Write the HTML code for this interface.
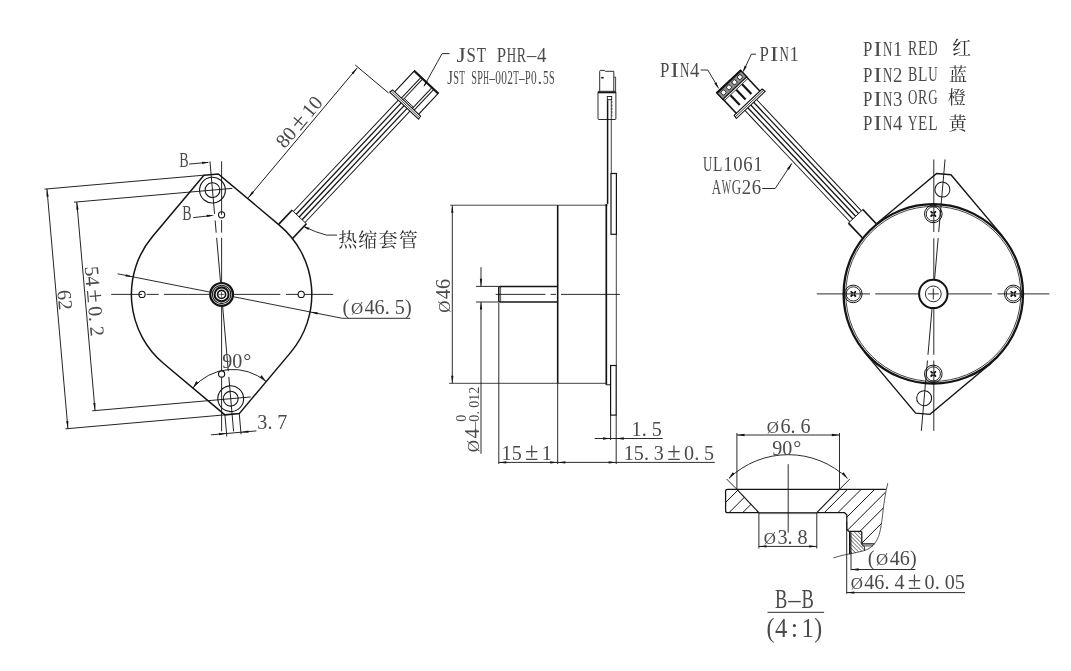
<!DOCTYPE html>
<html><head><meta charset="utf-8"><title>Motor drawing</title>
<style>
html,body{margin:0;padding:0;background:#fff;}
svg{display:block;will-change:transform;opacity:0.999}
svg text{font-family:"Liberation Serif",serif;fill:#4a4a4a;stroke:none;}
</style></head><body>
<svg width="1071" height="671" viewBox="0 0 1071 671" fill="none" stroke="#141414" stroke-linecap="butt">
<rect x="0" y="0" width="1071" height="671" fill="#fff" stroke="none"/>
<g transform="translate(221.6,294.4) rotate(-5)"><path d="M-7.2,-120.3 L7.2,-120.3 L63.78,-63.78 A90.2,90.2 0 0 1 63.78,63.78 L7.2,120.3 L-7.2,120.3 L-63.78,63.78 A90.2,90.2 0 0 1 -63.78,-63.78 Z" stroke-width="1.5" fill="none" /><circle cx="0" cy="-104.7" r="12.9" stroke-width="1.1" fill="none"/><circle cx="0" cy="-104.7" r="7.4" stroke-width="1.1" fill="none"/><line x1="-139" y1="-104.7" x2="20" y2="-104.7" stroke-width="0.9" /><line x1="-167.2" y1="-120.3" x2="-7.2" y2="-120.3" stroke-width="0.9" /><circle cx="0" cy="104.7" r="12.9" stroke-width="1.1" fill="none"/><circle cx="0" cy="104.7" r="7.4" stroke-width="1.1" fill="none"/><line x1="-139" y1="104.7" x2="20" y2="104.7" stroke-width="0.9" /><line x1="-167.2" y1="120.3" x2="-7.2" y2="120.3" stroke-width="0.9" /><line x1="-136.2" y1="-104.7" x2="-136.2" y2="104.7" stroke-width="0.9" /><path d="M-136.2,-104.7 L-135.05,-97.1 L-137.35,-97.1 Z" fill="#141414" stroke="none"/><path d="M-136.2,104.7 L-137.35,97.1 L-135.05,97.1 Z" fill="#141414" stroke="none"/><line x1="-164.8" y1="-120.3" x2="-164.8" y2="120.3" stroke-width="0.9" /><path d="M-164.8,-120.3 L-163.65,-112.7 L-165.95,-112.7 Z" fill="#141414" stroke="none"/><path d="M-164.8,120.3 L-165.95,112.7 L-163.65,112.7 Z" fill="#141414" stroke="none"/><line x1="0" y1="-133.6" x2="0" y2="-80.8" stroke-width="0.9" /><line x1="0" y1="-74.3" x2="0" y2="-62" stroke-width="0.9" /><line x1="0" y1="-56.8" x2="0" y2="-12" stroke-width="0.9" /><line x1="0" y1="12" x2="0" y2="77.1" stroke-width="0.9" /><line x1="0" y1="82.8" x2="0" y2="137.5" stroke-width="0.9" /><line x1="-7.2" y1="120.3" x2="-7.2" y2="142" stroke-width="0.9" /><line x1="7.2" y1="120.3" x2="7.2" y2="141" stroke-width="0.9" /><line x1="-22.7" y1="139" x2="22.8" y2="139" stroke-width="0.9" /><path d="M-7.2,139 L-14.8,140.15 L-14.8,137.85 Z" fill="#141414" stroke="none"/><path d="M7.2,139 L14.8,137.85 L14.8,140.15 Z" fill="#141414" stroke="none"/><path d="M-36.77,90.73 A52,52 0 0 1 36.77,90.73" stroke-width="0.9" fill="none" /><path d="M-36.77,90.73 L-32.82,84.13 L-31.05,85.6 Z" fill="#141414" stroke="none"/><path d="M36.77,90.73 L31.05,85.6 L32.82,84.13 Z" fill="#141414" stroke="none"/><text y="-18.1" font-size="20.1" transform="rotate(90 -163.3 -18.1)" ><tspan x="-163.3">6</tspan><tspan x="-153.25">2</tspan></text><text y="-39.6" font-size="20.1" transform="rotate(90 -134 -39.6)" ><tspan x="-134">5</tspan><tspan x="-123.95">4</tspan><tspan x="-110.58" font-size="24.52">±</tspan><tspan x="-93.8">0</tspan><tspan x="-83.55">.</tspan><tspan x="-73.7">2</tspan></text></g><circle cx="221.6" cy="214.8" r="3.1" stroke-width="1.1" fill="#fff"/><circle cx="221.6" cy="374" r="3.1" stroke-width="1.1" fill="#fff"/><circle cx="142" cy="294.4" r="3.1" stroke-width="1.1" fill="#fff"/><circle cx="301.2" cy="294.4" r="3.1" stroke-width="1.1" fill="#fff"/><line x1="221.6" y1="161.3" x2="221.6" y2="214.8" stroke-width="0.9" /><line x1="221.6" y1="220.1" x2="221.6" y2="232.6" stroke-width="0.9" /><line x1="221.6" y1="237.8" x2="221.6" y2="282.4" stroke-width="0.9" /><line x1="221.6" y1="306.4" x2="221.6" y2="370.9" stroke-width="0.9" /><line x1="221.6" y1="377.1" x2="221.6" y2="431.4" stroke-width="0.9" /><line x1="111.2" y1="294.4" x2="142" y2="294.4" stroke-width="0.9" /><line x1="146.6" y1="294.4" x2="158.7" y2="294.4" stroke-width="0.9" /><line x1="163.9" y1="294.4" x2="209.6" y2="294.4" stroke-width="0.9" /><line x1="233.6" y1="294.4" x2="280.4" y2="294.4" stroke-width="0.9" /><line x1="286" y1="294.4" x2="298.1" y2="294.4" stroke-width="0.9" /><line x1="304.3" y1="294.4" x2="333.2" y2="294.4" stroke-width="0.9" /><circle cx="221.6" cy="294.4" r="11.4" stroke-width="2.2" fill="none"/><circle cx="221.6" cy="294.4" r="9.2" stroke-width="1.1" fill="none"/><circle cx="221.6" cy="294.4" r="7" stroke-width="2.1" fill="none"/><circle cx="221.6" cy="294.4" r="4" stroke-width="1.7" fill="none"/><line x1="219.2" y1="294.4" x2="224" y2="294.4" stroke-width="0.7" /><line x1="221.6" y1="292" x2="221.6" y2="296.8" stroke-width="0.7" /><line x1="117.62" y1="273.81" x2="209.34" y2="291.97" stroke-width="0.9" /><line x1="233.86" y1="296.83" x2="342.3" y2="318.3" stroke-width="0.9" /><line x1="342.3" y1="318.3" x2="410.3" y2="318.3" stroke-width="0.9" /><path d="M133.12,276.88 L125.44,276.53 L125.89,274.28 Z" fill="#141414" stroke="none"/><path d="M310.08,311.92 L317.76,312.27 L317.31,314.52 Z" fill="#141414" stroke="none"/><text y="314.2" font-size="20.1" ><tspan x="342.56">(</tspan><tspan x="350.89" font-size="16.88">Ø</tspan><tspan x="364.52">4</tspan><tspan x="374.57">6</tspan><tspan x="384.82">.</tspan><tspan x="394.68">5</tspan><tspan x="404.93">)</tspan></text><text y="429" font-size="20.1" ><tspan x="257.2">3</tspan><tspan x="267.45">.</tspan><tspan x="277.3">7</tspan></text><text y="367.9" font-size="20.1" ><tspan x="222.2">9</tspan><tspan x="232.25">0</tspan><tspan x="243.31">°</tspan></text><line x1="189.1" y1="164.1" x2="208" y2="162.35" stroke-width="0.9" /><path d="M209.7,162.2 L202.23,164.01 L202.03,161.72 Z" fill="#141414" stroke="none"/><text y="166.5" font-size="20.1" ><tspan x="179.35" textLength="9.35" lengthAdjust="spacingAndGlyphs">B</tspan></text><line x1="193.2" y1="217.6" x2="212" y2="215.55" stroke-width="0.9" /><path d="M214.3,215.3 L206.83,217.11 L206.63,214.82 Z" fill="#141414" stroke="none"/><text y="219.8" font-size="20.1" ><tspan x="182.35" textLength="9.35" lengthAdjust="spacingAndGlyphs">B</tspan></text><g transform="translate(221.6,294.4) rotate(-50)"><line x1="91" y1="-41.7" x2="260.8" y2="-41.7" stroke-width="0.9" /><path d="M91,-41.7 L98.6,-42.85 L98.6,-40.55 Z" fill="#141414" stroke="none"/><path d="M260.8,-41.7 L253.2,-40.55 L253.2,-42.85 Z" fill="#141414" stroke="none"/><line x1="261.6" y1="-45" x2="261.6" y2="-1.5" stroke-width="0.9" /><text y="-44.8" font-size="20.1" ><tspan x="151.8">8</tspan><tspan x="161.85">0</tspan><tspan x="175.22" font-size="24.52">±</tspan><tspan x="192">1</tspan><tspan x="202.05">0</tspan></text></g><g transform="translate(299.2,217) rotate(-46.7)"><line x1="0" y1="-8" x2="153" y2="-8" stroke-width="0.95" /><line x1="0" y1="-4" x2="153" y2="-4" stroke-width="1.3" /><line x1="0" y1="0" x2="153" y2="0" stroke-width="1.3" /><line x1="0" y1="4" x2="153" y2="4" stroke-width="1.3" /><line x1="0" y1="8" x2="153" y2="8" stroke-width="0.95" /><path d="M-19.2,-9.9 L0,-9.9" stroke-width="1.7" fill="none" /><path d="M-20.2,9.9 L0,9.9" stroke-width="1.7" fill="none" /><line x1="0" y1="-10.3" x2="0" y2="10.3" stroke-width="0.9" /><path d="M153,-19.8 L153,19.8 L156.6,19.2 L156.6,-19.2 Z" stroke-width="1.1" fill="none" /><line x1="154.8" y1="-19.6" x2="154.8" y2="19.6" stroke-width="0.7" /><path d="M156.6,-16.4 L185.7,-16.4 L185.7,16.4 L156.6,16.4" stroke-width="1.15" fill="none" /><line x1="185" y1="-16.4" x2="185" y2="16.4" stroke-width="1.7" /><line x1="156.6" y1="-7.2" x2="184.5" y2="-7.2" stroke-width="1.0" /><line x1="156.6" y1="-4.8" x2="184.5" y2="-4.8" stroke-width="1.0" /><line x1="156.6" y1="7.9" x2="184.5" y2="7.9" stroke-width="1.0" /><line x1="156.6" y1="10.4" x2="184.5" y2="10.4" stroke-width="1.0" /><line x1="158.3" y1="-4.8" x2="158.3" y2="7.9" stroke-width="0.9" /></g><path d="M449.6,53.6 L442.1,53.6 L424.2,85.8" stroke-width="0.9" fill="none" /><path d="M423.5,87.2 L425.84,80.5 L427.94,81.66 Z" fill="#141414" stroke="none"/><text y="61.6" font-size="20.1" ><tspan x="456.55" textLength="9.35" lengthAdjust="spacingAndGlyphs">J</tspan><tspan x="466.6" textLength="9.35" lengthAdjust="spacingAndGlyphs">S</tspan><tspan x="476.65" textLength="9.35" lengthAdjust="spacingAndGlyphs">T</tspan><tspan x="496.75" textLength="9.35" lengthAdjust="spacingAndGlyphs">P</tspan><tspan x="506.8" textLength="9.35" lengthAdjust="spacingAndGlyphs">H</tspan><tspan x="516.85" textLength="9.35" lengthAdjust="spacingAndGlyphs">R</tspan><tspan x="526.9" textLength="9.35" lengthAdjust="spacingAndGlyphs">–</tspan><tspan x="536.95" textLength="9.35" lengthAdjust="spacingAndGlyphs">4</tspan></text><text y="84.3" font-size="19" ><tspan x="447.35" textLength="5.68" lengthAdjust="spacingAndGlyphs">J</tspan><tspan x="453.33" textLength="5.68" lengthAdjust="spacingAndGlyphs">S</tspan><tspan x="459.31" textLength="5.68" lengthAdjust="spacingAndGlyphs">T</tspan><tspan x="471.27" textLength="5.68" lengthAdjust="spacingAndGlyphs">S</tspan><tspan x="477.25" textLength="5.68" lengthAdjust="spacingAndGlyphs">P</tspan><tspan x="483.23" textLength="5.68" lengthAdjust="spacingAndGlyphs">H</tspan><tspan x="489.21" textLength="5.68" lengthAdjust="spacingAndGlyphs">–</tspan><tspan x="495.19" textLength="5.68" lengthAdjust="spacingAndGlyphs">0</tspan><tspan x="501.17" textLength="5.68" lengthAdjust="spacingAndGlyphs">0</tspan><tspan x="507.15" textLength="5.68" lengthAdjust="spacingAndGlyphs">2</tspan><tspan x="513.13" textLength="5.68" lengthAdjust="spacingAndGlyphs">T</tspan><tspan x="519.11" textLength="5.68" lengthAdjust="spacingAndGlyphs">–</tspan><tspan x="525.09" textLength="5.68" lengthAdjust="spacingAndGlyphs">P</tspan><tspan x="531.07" textLength="5.68" lengthAdjust="spacingAndGlyphs">0</tspan><tspan x="537.52" textLength="4.75" lengthAdjust="spacingAndGlyphs">.</tspan><tspan x="543.03" textLength="5.68" lengthAdjust="spacingAndGlyphs">5</tspan><tspan x="549.01" textLength="5.68" lengthAdjust="spacingAndGlyphs">S</tspan></text><path d="M337.1,235.1 L326.4,235.1 Q316,232.5 304.5,226.8" stroke-width="0.9" fill="none" /><path d="M302.6,226 L309.45,227.87 L308.44,230.05 Z" fill="#141414" stroke="none"/><text y="246.9" font-size="19" style="font-family:'Liberation Serif','Noto Serif CJK SC',serif;fill:#2e2e2e;"><tspan x="338.35">热</tspan><tspan x="358.23">缩</tspan><tspan x="378.56">套</tspan><tspan x="398.72">管</tspan></text><line x1="450.2" y1="205.2" x2="607.7" y2="205.2" stroke-width="0.8" /><line x1="449.1" y1="383.3" x2="606.3" y2="383.3" stroke-width="0.8" /><line x1="557.7" y1="205.2" x2="557.7" y2="383.3" stroke-width="1.6" /><line x1="606.3" y1="204" x2="606.3" y2="384.8" stroke-width="1.7" /><line x1="606.3" y1="384.8" x2="610.5" y2="384.8" stroke-width="1.0" /><line x1="607.6" y1="100.2" x2="607.6" y2="204" stroke-width="1.5" /><line x1="611.3" y1="100.2" x2="611.3" y2="173.5" stroke-width="0.8" /><rect x="611" y="173.5" width="5.4" height="60.8" fill="none" stroke-width="1.2"/><rect x="610.6" y="365.5" width="5.6" height="49.6" fill="none" stroke-width="1.2"/><line x1="616.3" y1="234.3" x2="616.3" y2="365.5" stroke-width="0.8" /><path d="M557.7,286.4 L500,286.4 Q498.8,286.4 498.8,287.6 L498.8,300.8 Q498.8,302 500,302 L557.7,302" stroke-width="1.5" fill="none" /><line x1="500.6" y1="286.4" x2="500.6" y2="302" stroke-width="0.7" /><line x1="476.1" y1="286.4" x2="498.8" y2="286.4" stroke-width="0.9" /><line x1="476.1" y1="302" x2="498.8" y2="302" stroke-width="0.9" /><line x1="495.7" y1="294.4" x2="545.5" y2="294.4" stroke-width="0.9" /><line x1="550.5" y1="294.4" x2="556" y2="294.4" stroke-width="0.9" /><line x1="561" y1="294.4" x2="620" y2="294.4" stroke-width="0.9" /><line x1="452.3" y1="205.2" x2="452.3" y2="383.3" stroke-width="0.9" /><path d="M452.3,205.2 L453.45,212.8 L451.15,212.8 Z" fill="#141414" stroke="none"/><path d="M452.3,383.3 L451.15,375.7 L453.45,375.7 Z" fill="#141414" stroke="none"/><text y="314.2" font-size="20.1" transform="rotate(-90 450.4 314.2)" ><tspan x="451.84" font-size="16.88">Ø</tspan><tspan x="465.47">4</tspan><tspan x="475.52">6</tspan></text><line x1="481" y1="267.1" x2="481" y2="286.4" stroke-width="0.9" /><path d="M481,286.4 L479.85,278.8 L482.15,278.8 Z" fill="#141414" stroke="none"/><line x1="481" y1="302" x2="481" y2="453.8" stroke-width="0.9" /><path d="M481,302 L482.15,309.6 L479.85,309.6 Z" fill="#141414" stroke="none"/><text y="453.6" font-size="20.1" transform="rotate(-90 479.4 453.6)" ><tspan x="480.84" font-size="16.88">Ø</tspan><tspan x="494.47">4</tspan></text><text y="428.8" font-size="14" transform="rotate(-90 479.4 428.8)" ><tspan x="479.4">–</tspan><tspan x="486.4">0</tspan><tspan x="493.6">.</tspan><tspan x="500.4">0</tspan><tspan x="507.4">1</tspan><tspan x="514.4">2</tspan></text><text y="421.8" font-size="14" transform="rotate(-90 466.3 421.8)" ><tspan x="466.3">0</tspan></text><line x1="498.8" y1="303" x2="498.8" y2="464" stroke-width="0.9" /><line x1="557.7" y1="383.3" x2="557.7" y2="464" stroke-width="0.9" /><line x1="498.8" y1="462.4" x2="557.7" y2="462.4" stroke-width="0.9" /><path d="M498.8,462.4 L506.4,461.25 L506.4,463.55 Z" fill="#141414" stroke="none"/><path d="M557.7,462.4 L550.1,463.55 L550.1,461.25 Z" fill="#141414" stroke="none"/><text y="459.8" font-size="20.1" ><tspan x="501.6">1</tspan><tspan x="511.65">5</tspan><tspan x="525.02" font-size="24.52">±</tspan><tspan x="541.8">1</tspan></text><line x1="616.2" y1="415.1" x2="616.2" y2="464" stroke-width="0.9" /><line x1="557.7" y1="462.4" x2="714.8" y2="462.4" stroke-width="0.9" /><path d="M557.7,462.4 L565.3,461.25 L565.3,463.55 Z" fill="#141414" stroke="none"/><path d="M616.2,462.4 L608.6,463.55 L608.6,461.25 Z" fill="#141414" stroke="none"/><text y="459.8" font-size="20.1" ><tspan x="623.7">1</tspan><tspan x="633.75">5</tspan><tspan x="644">.</tspan><tspan x="653.85">3</tspan><tspan x="667.22" font-size="24.52">±</tspan><tspan x="684">0</tspan><tspan x="694.25">.</tspan><tspan x="704.1">5</tspan></text><line x1="610.6" y1="415.1" x2="610.6" y2="440" stroke-width="0.9" /><line x1="594.7" y1="438.5" x2="662.7" y2="438.5" stroke-width="0.9" /><path d="M610.6,438.5 L603,439.65 L603,437.35 Z" fill="#141414" stroke="none"/><path d="M616.2,438.5 L623.8,437.35 L623.8,439.65 Z" fill="#141414" stroke="none"/><text y="436.4" font-size="20.1" ><tspan x="631.6">1</tspan><tspan x="641.85">.</tspan><tspan x="651.7">5</tspan></text><path d="M599.7,91.3 L599.7,71.3 Q599.7,70.4 600.6,70.4 L604.4,70.4 L605.4,71.3 L613.8,71.3 L613.8,91.3" stroke-width="0.9" fill="none" /><path d="M613.8,77.2 L615.6,77.2 L615.6,91.3" stroke-width="0.8" fill="none" /><line x1="601.2" y1="77.7" x2="603.6" y2="77.7" stroke-width="1.6" /><rect x="598" y="91.3" width="17.9" height="28.2" rx="0.8" fill="none" stroke-width="0.9"/><line x1="598" y1="92.5" x2="615.9" y2="92.5" stroke-width="1.6" /><rect x="607.3" y="96.5" width="4.4" height="3.2" fill="none" stroke-width="0.9"/><line x1="612" y1="101" x2="612" y2="116.5" stroke-width="0.6" stroke-dasharray="2.2 1.2"/><g transform="translate(933.3,293.9) rotate(5)"><path d="M-63.78,-63.78 L-7.2,-120.3 L7.2,-120.3 L63.78,-63.78" stroke-width="1.4" fill="none" /><circle cx="0" cy="-104.7" r="7.5" stroke-width="1.0" fill="none"/><path d="M-63.78,63.78 L-7.2,120.3 L7.2,120.3 L63.78,63.78" stroke-width="1.4" fill="none" /><circle cx="0" cy="104.7" r="7.5" stroke-width="1.0" fill="none"/><line x1="0" y1="-135" x2="0" y2="-62" stroke-width="0.9" /><line x1="0" y1="-56" x2="0" y2="-15" stroke-width="0.9" /><line x1="0" y1="15" x2="0" y2="61.2" stroke-width="0.9" /><line x1="0" y1="66.9" x2="0" y2="137.5" stroke-width="0.9" /></g><circle cx="933.3" cy="293.9" r="89.7" stroke-width="2.3" fill="none"/><circle cx="933.3" cy="293.9" r="87.5" stroke-width="0.8" fill="none"/><circle cx="933.3" cy="213.9" r="8.8" stroke-width="1.0" fill="none"/><circle cx="933.3" cy="213.9" r="7.1" stroke-width="0.9" fill="none"/><path d="M931.2,211.8 L935.4,216 M935.4,211.8 L931.2,216" stroke-width="1.8" stroke-linecap="round" fill="none"/><rect x="932.5" y="213.1" width="1.6" height="1.6" fill="#fff" stroke="none"/><circle cx="933.3" cy="373.9" r="8.8" stroke-width="1.0" fill="none"/><circle cx="933.3" cy="373.9" r="7.1" stroke-width="0.9" fill="none"/><path d="M931.2,371.8 L935.4,376 M935.4,371.8 L931.2,376" stroke-width="1.8" stroke-linecap="round" fill="none"/><rect x="932.5" y="373.1" width="1.6" height="1.6" fill="#fff" stroke="none"/><circle cx="853.3" cy="293.9" r="8.8" stroke-width="1.0" fill="none"/><circle cx="853.3" cy="293.9" r="7.1" stroke-width="0.9" fill="none"/><path d="M851.2,291.8 L855.4,296 M855.4,291.8 L851.2,296" stroke-width="1.8" stroke-linecap="round" fill="none"/><rect x="852.5" y="293.1" width="1.6" height="1.6" fill="#fff" stroke="none"/><circle cx="1013.3" cy="293.9" r="8.8" stroke-width="1.0" fill="none"/><circle cx="1013.3" cy="293.9" r="7.1" stroke-width="0.9" fill="none"/><path d="M1011.2,291.8 L1015.4,296 M1015.4,291.8 L1011.2,296" stroke-width="1.8" stroke-linecap="round" fill="none"/><rect x="1012.5" y="293.1" width="1.6" height="1.6" fill="#fff" stroke="none"/><circle cx="933.3" cy="293.9" r="14.2" stroke-width="2.0" fill="none"/><circle cx="933.3" cy="293.9" r="7.9" stroke-width="0.9" fill="none"/><line x1="927.8" y1="293.9" x2="938.8" y2="293.9" stroke-width="0.9" /><line x1="933.3" y1="288.4" x2="933.3" y2="299.4" stroke-width="0.9" /><line x1="816.8" y1="293.9" x2="870" y2="293.9" stroke-width="0.9" /><line x1="875.2" y1="293.9" x2="918.3" y2="293.9" stroke-width="0.9" /><line x1="948.3" y1="293.9" x2="992" y2="293.9" stroke-width="0.9" /><line x1="997.5" y1="293.9" x2="1049.4" y2="293.9" stroke-width="0.9" /><line x1="933.8" y1="159.5" x2="933.8" y2="232" stroke-width="0.9" /><line x1="933.8" y1="238.3" x2="933.8" y2="278.9" stroke-width="0.9" /><line x1="933.8" y1="308.9" x2="933.8" y2="354.9" stroke-width="0.9" /><line x1="933.8" y1="360.5" x2="933.8" y2="430.9" stroke-width="0.9" /><g transform="translate(855.65,216.3) scale(-1,1) rotate(-46.7)"><line x1="0" y1="-8" x2="153" y2="-8" stroke-width="0.95" /><line x1="0" y1="-4" x2="153" y2="-4" stroke-width="1.3" /><line x1="0" y1="0" x2="153" y2="0" stroke-width="1.3" /><line x1="0" y1="4" x2="153" y2="4" stroke-width="1.3" /><line x1="0" y1="8" x2="153" y2="8" stroke-width="0.95" /><path d="M-19.2,-9.9 L0,-9.9" stroke-width="1.7" fill="none" /><path d="M-20.2,9.9 L0,9.9" stroke-width="1.7" fill="none" /><line x1="0" y1="-10.3" x2="0" y2="10.3" stroke-width="0.9" /><path d="M153,-19.8 L153,19.8 L156.8,19.2 L156.8,-19.2 Z" stroke-width="1.1" fill="none" /><line x1="154.9" y1="-19.6" x2="154.9" y2="19.6" stroke-width="0.8" /><line x1="156.6" y1="-16.2" x2="185.5" y2="-16.2" stroke-width="1.6" /><line x1="156.6" y1="16.2" x2="185.5" y2="16.2" stroke-width="1.6" /><rect x="176.2" y="-16.4" width="9.2" height="32.8" fill="#8c8c8c" stroke-width="1.3"/><line x1="184.6" y1="-16.4" x2="184.6" y2="16.4" stroke-width="1.6" /><rect x="178.6" y="-13.35" width="4.2" height="4.2" rx="1.2" fill="#fff" stroke-width="0.9"/><rect x="178.6" y="-5.85" width="4.2" height="4.2" rx="1.2" fill="#fff" stroke-width="0.9"/><rect x="178.6" y="1.65" width="4.2" height="4.2" rx="1.2" fill="#fff" stroke-width="0.9"/><rect x="178.6" y="9.15" width="4.2" height="4.2" rx="1.2" fill="#fff" stroke-width="0.9"/><line x1="174.2" y1="-16.6" x2="174.2" y2="16.6" stroke-width="0.8" /><line x1="160.5" y1="-8" x2="174" y2="-8" stroke-width="2.2" /><line x1="160.5" y1="0" x2="174" y2="0" stroke-width="2.2" /><line x1="160.5" y1="8" x2="174" y2="8" stroke-width="2.2" /></g><text y="77" font-size="20.1" ><tspan x="659.95" textLength="9.35" lengthAdjust="spacingAndGlyphs">P</tspan><tspan x="670.49" textLength="8.37" lengthAdjust="spacingAndGlyphs">I</tspan><tspan x="680.05" textLength="9.35" lengthAdjust="spacingAndGlyphs">N</tspan><tspan x="690.1" textLength="9.35" lengthAdjust="spacingAndGlyphs">4</tspan></text><path d="M700.7,70 L707.8,70 L718.2,87.6" stroke-width="0.9" fill="none" /><path d="M718.9,88.9 L714.32,83.47 L716.39,82.26 Z" fill="#141414" stroke="none"/><text y="60.6" font-size="20.1" ><tspan x="759.45" textLength="9.35" lengthAdjust="spacingAndGlyphs">P</tspan><tspan x="769.99" textLength="8.37" lengthAdjust="spacingAndGlyphs">I</tspan><tspan x="779.55" textLength="9.35" lengthAdjust="spacingAndGlyphs">N</tspan><tspan x="789.6" textLength="9.35" lengthAdjust="spacingAndGlyphs">1</tspan></text><path d="M755.9,54.2 L751.4,54.2 L743.3,71.2" stroke-width="0.9" fill="none" /><path d="M742.7,72.5 L744.62,65.66 L746.79,66.69 Z" fill="#141414" stroke="none"/><text y="170.9" font-size="20.1" ><tspan x="703.05" textLength="9.35" lengthAdjust="spacingAndGlyphs">U</tspan><tspan x="713.1" textLength="9.35" lengthAdjust="spacingAndGlyphs">L</tspan><tspan x="723.15" textLength="9.35" lengthAdjust="spacingAndGlyphs">1</tspan><tspan x="733.2" textLength="9.35" lengthAdjust="spacingAndGlyphs">0</tspan><tspan x="743.25" textLength="9.35" lengthAdjust="spacingAndGlyphs">6</tspan><tspan x="753.3" textLength="9.35" lengthAdjust="spacingAndGlyphs">1</tspan></text><text y="193.8" font-size="20.1" ><tspan x="711.65" textLength="9.35" lengthAdjust="spacingAndGlyphs">A</tspan><tspan x="721.7" textLength="9.35" lengthAdjust="spacingAndGlyphs">W</tspan><tspan x="731.75" textLength="9.35" lengthAdjust="spacingAndGlyphs">G</tspan><tspan x="741.8" textLength="9.35" lengthAdjust="spacingAndGlyphs">2</tspan><tspan x="751.85" textLength="9.35" lengthAdjust="spacingAndGlyphs">6</tspan></text><path d="M762.3,188.5 L775.2,188.5 L791.6,163.7" stroke-width="0.9" fill="none" /><path d="M792.5,162.4 L789.09,169.73 L787.08,168.41 Z" fill="#141414" stroke="none"/><text y="56.2" font-size="20.1" ><tspan x="862.95" textLength="9.35" lengthAdjust="spacingAndGlyphs">P</tspan><tspan x="873.49" textLength="8.37" lengthAdjust="spacingAndGlyphs">I</tspan><tspan x="883.05" textLength="9.35" lengthAdjust="spacingAndGlyphs">N</tspan><tspan x="893.1" textLength="9.35" lengthAdjust="spacingAndGlyphs">1</tspan></text><text y="55.2" font-size="20.1" ><tspan x="908.05" textLength="9.35" lengthAdjust="spacingAndGlyphs">R</tspan><tspan x="918.1" textLength="9.35" lengthAdjust="spacingAndGlyphs">E</tspan><tspan x="928.15" textLength="9.35" lengthAdjust="spacingAndGlyphs">D</tspan></text><text x="952.14" y="55.05" font-size="18.8" style="font-family:'Liberation Serif','Noto Serif CJK SC',serif;fill:#2e2e2e;">红</text><text y="81.6" font-size="20.1" ><tspan x="862.95" textLength="9.35" lengthAdjust="spacingAndGlyphs">P</tspan><tspan x="873.49" textLength="8.37" lengthAdjust="spacingAndGlyphs">I</tspan><tspan x="883.05" textLength="9.35" lengthAdjust="spacingAndGlyphs">N</tspan><tspan x="893.1" textLength="9.35" lengthAdjust="spacingAndGlyphs">2</tspan></text><text y="80.9" font-size="20.1" ><tspan x="908.05" textLength="9.35" lengthAdjust="spacingAndGlyphs">B</tspan><tspan x="918.1" textLength="9.35" lengthAdjust="spacingAndGlyphs">L</tspan><tspan x="928.15" textLength="9.35" lengthAdjust="spacingAndGlyphs">U</tspan></text><text x="948.9" y="81.41" font-size="18.2" style="font-family:'Liberation Serif','Noto Serif CJK SC',serif;fill:#2e2e2e;">蓝</text><text y="105.9" font-size="20.1" ><tspan x="862.95" textLength="9.35" lengthAdjust="spacingAndGlyphs">P</tspan><tspan x="873.49" textLength="8.37" lengthAdjust="spacingAndGlyphs">I</tspan><tspan x="883.05" textLength="9.35" lengthAdjust="spacingAndGlyphs">N</tspan><tspan x="893.1" textLength="9.35" lengthAdjust="spacingAndGlyphs">3</tspan></text><text y="103.9" font-size="20.1" ><tspan x="908.05" textLength="9.35" lengthAdjust="spacingAndGlyphs">O</tspan><tspan x="918.1" textLength="9.35" lengthAdjust="spacingAndGlyphs">R</tspan><tspan x="928.15" textLength="9.35" lengthAdjust="spacingAndGlyphs">G</tspan></text><text x="947.78" y="104.06" font-size="18.3" style="font-family:'Liberation Serif','Noto Serif CJK SC',serif;fill:#2e2e2e;">橙</text><text y="130" font-size="20.1" ><tspan x="862.95" textLength="9.35" lengthAdjust="spacingAndGlyphs">P</tspan><tspan x="873.49" textLength="8.37" lengthAdjust="spacingAndGlyphs">I</tspan><tspan x="883.05" textLength="9.35" lengthAdjust="spacingAndGlyphs">N</tspan><tspan x="893.1" textLength="9.35" lengthAdjust="spacingAndGlyphs">4</tspan></text><text y="130.2" font-size="20.1" ><tspan x="908.05" textLength="9.35" lengthAdjust="spacingAndGlyphs">Y</tspan><tspan x="918.1" textLength="9.35" lengthAdjust="spacingAndGlyphs">E</tspan><tspan x="928.15" textLength="9.35" lengthAdjust="spacingAndGlyphs">L</tspan></text><text x="948.51" y="129.85" font-size="18.3" style="font-family:'Liberation Serif','Noto Serif CJK SC',serif;fill:#2e2e2e;">黄</text><defs><clipPath id="cpA"><path d="M725.6,489.3 L736.9,489.3 L758.9,512.7 L725.6,512.7 Z"/></clipPath><clipPath id="cpB"><path d="M839.5,489.3 L885.8,489.3 C884.5,497 883.3,507 882.6,514.7 C881.5,524 880.5,531 878.5,536.5 C876.5,541.5 874.5,544 872.5,545.8 L861.8,545.8 L861.8,531.4 L849,531.4 L846.8,529.6 L846.8,514.7 L844.6,512.7 L816.8,512.7 Z"/></clipPath><clipPath id="cpC"><path d="M849.8,531.4 L861.2,531.4 L861.2,543.5 L864.5,547.2 L864.5,550.6 C858,552.5 853,553.4 849.8,554 Z"/></clipPath></defs><g clip-path="url(#cpA)"><line x1="694.5" y1="520" x2="734.5" y2="480" stroke-width="1.0" /><line x1="708.1" y1="520" x2="748.1" y2="480" stroke-width="1.0" /><line x1="721.7" y1="520" x2="761.7" y2="480" stroke-width="1.0" /><line x1="735.3" y1="520" x2="775.3" y2="480" stroke-width="1.0" /><line x1="748.9" y1="520" x2="788.9" y2="480" stroke-width="1.0" /><line x1="762.5" y1="520" x2="802.5" y2="480" stroke-width="1.0" /></g><g clip-path="url(#cpB)"><line x1="712.5" y1="570" x2="812.5" y2="470" stroke-width="1.0" /><line x1="726.1" y1="570" x2="826.1" y2="470" stroke-width="1.0" /><line x1="739.7" y1="570" x2="839.7" y2="470" stroke-width="1.0" /><line x1="753.3" y1="570" x2="853.3" y2="470" stroke-width="1.0" /><line x1="766.9" y1="570" x2="866.9" y2="470" stroke-width="1.0" /><line x1="780.5" y1="570" x2="880.5" y2="470" stroke-width="1.0" /><line x1="794.1" y1="570" x2="894.1" y2="470" stroke-width="1.0" /><line x1="807.7" y1="570" x2="907.7" y2="470" stroke-width="1.0" /><line x1="821.3" y1="570" x2="921.3" y2="470" stroke-width="1.0" /><line x1="834.9" y1="570" x2="934.9" y2="470" stroke-width="1.0" /><line x1="848.5" y1="570" x2="948.5" y2="470" stroke-width="1.0" /><line x1="862.1" y1="570" x2="962.1" y2="470" stroke-width="1.0" /><line x1="875.7" y1="570" x2="975.7" y2="470" stroke-width="1.0" /><line x1="889.3" y1="570" x2="989.3" y2="470" stroke-width="1.0" /><line x1="902.9" y1="570" x2="1002.9" y2="470" stroke-width="1.0" /><line x1="916.5" y1="570" x2="1016.5" y2="470" stroke-width="1.0" /></g><g clip-path="url(#cpC)"><line x1="820" y1="525" x2="855" y2="560" stroke-width="0.7" /><line x1="823.9" y1="525" x2="858.9" y2="560" stroke-width="0.7" /><line x1="827.8" y1="525" x2="862.8" y2="560" stroke-width="0.7" /><line x1="831.7" y1="525" x2="866.7" y2="560" stroke-width="0.7" /><line x1="835.6" y1="525" x2="870.6" y2="560" stroke-width="0.7" /><line x1="839.5" y1="525" x2="874.5" y2="560" stroke-width="0.7" /><line x1="843.4" y1="525" x2="878.4" y2="560" stroke-width="0.7" /><line x1="847.3" y1="525" x2="882.3" y2="560" stroke-width="0.7" /><line x1="851.2" y1="525" x2="886.2" y2="560" stroke-width="0.7" /><line x1="855.1" y1="525" x2="890.1" y2="560" stroke-width="0.7" /><line x1="859" y1="525" x2="894" y2="560" stroke-width="0.7" /><line x1="862.9" y1="525" x2="897.9" y2="560" stroke-width="0.7" /><line x1="866.8" y1="525" x2="901.8" y2="560" stroke-width="0.7" /><line x1="870.7" y1="525" x2="905.7" y2="560" stroke-width="0.7" /><line x1="874.6" y1="525" x2="909.6" y2="560" stroke-width="0.7" /><line x1="878.5" y1="525" x2="913.5" y2="560" stroke-width="0.7" /></g><path d="M885.8,489.3 L727.6,489.3 Q725.6,489.3 725.6,491.3 L725.6,510.70000000000005 Q725.6,512.7 727.6,512.7 L758.9,512.7" stroke-width="1.25" fill="none" /><path d="M816.8,512.7 L844.6,512.7 L846.8,514.7 L846.8,529.6 L849,531.4 L861,531.4 L861.8,532.2 L861.8,543.8 L874.4,543.8" stroke-width="1.25" fill="none" /><line x1="758.9" y1="512.7" x2="816.8" y2="512.7" stroke-width="1.0" /><line x1="758.9" y1="513.6" x2="816.8" y2="513.6" stroke-width="0.5" /><line x1="736.9" y1="489.3" x2="758.9" y2="512.7" stroke-width="1.15" /><line x1="839.5" y1="489.3" x2="816.8" y2="512.7" stroke-width="1.15" /><path d="M849.8,531.4 L849.8,554.2" stroke-width="1.6" fill="none" /><path d="M861.2,543.6 L864.6,547 L864.6,550.5" stroke-width="0.9" fill="none" /><path d="M862,545.9 L873,545.9" stroke-width="0.8" fill="none" /><path d="M887.8,483.1 C885.5,492 883.5,505 882.6,514.7 C881.5,524 880.5,531 878.5,536.5 C876,543.5 871,548.5 864,550.7 C855,553.3 843,554.5 833.4,557.9" stroke-width="0.7" fill="none" /><line x1="788.2" y1="464.2" x2="788.2" y2="532.6" stroke-width="0.9" /><line x1="736.9" y1="433" x2="736.9" y2="489.3" stroke-width="0.9" /><line x1="839.5" y1="433" x2="839.5" y2="489.3" stroke-width="0.9" /><line x1="736.9" y1="435" x2="839.5" y2="435" stroke-width="0.9" /><path d="M736.9,435 L744.5,433.85 L744.5,436.15 Z" fill="#141414" stroke="none"/><path d="M839.5,435 L831.9,436.15 L831.9,433.85 Z" fill="#141414" stroke="none"/><text y="433.2" font-size="20.1" ><tspan x="766.74" font-size="16.88">Ø</tspan><tspan x="780.38">6</tspan><tspan x="790.62">.</tspan><tspan x="800.47">6</tspan></text><path d="M728.89,478.39 A86,86 0 0 1 847.51,478.39" stroke-width="0.9" fill="none" /><path d="M728.59,478.69 L732.71,472.2 L734.44,473.71 Z" fill="#141414" stroke="none"/><path d="M847.81,478.69 L841.96,473.71 L843.69,472.2 Z" fill="#141414" stroke="none"/><line x1="736.9" y1="489.3" x2="726.6" y2="479" stroke-width="0.9" /><line x1="839.5" y1="489.3" x2="849.8" y2="479" stroke-width="0.9" /><text y="454.8" font-size="20.1" ><tspan x="772.2">9</tspan><tspan x="782.25">0</tspan><tspan x="793.3">°</tspan></text><line x1="758.9" y1="512.7" x2="758.9" y2="548.5" stroke-width="0.9" /><line x1="816.8" y1="512.7" x2="816.8" y2="548.5" stroke-width="0.9" /><line x1="758.9" y1="546.4" x2="816.8" y2="546.4" stroke-width="0.9" /><path d="M758.9,546.4 L766.5,545.25 L766.5,547.55 Z" fill="#141414" stroke="none"/><path d="M816.8,546.4 L809.2,547.55 L809.2,545.25 Z" fill="#141414" stroke="none"/><text y="544.4" font-size="20.1" ><tspan x="763.74" font-size="16.88">Ø</tspan><tspan x="777.38">3</tspan><tspan x="787.62">.</tspan><tspan x="797.47">8</tspan></text><line x1="846.7" y1="521.8" x2="846.7" y2="593.7" stroke-width="0.9" /><line x1="851" y1="533" x2="851" y2="570.2" stroke-width="0.9" /><line x1="851" y1="569.5" x2="915.4" y2="569.5" stroke-width="0.9" /><path d="M851,569.5 L858.6,568.35 L858.6,570.65 Z" fill="#141414" stroke="none"/><text y="565.4" font-size="20.1" ><tspan x="867.76">(</tspan><tspan x="876.09" font-size="16.88">Ø</tspan><tspan x="889.73">4</tspan><tspan x="899.77">6</tspan><tspan x="910.02">)</tspan></text><line x1="846.7" y1="592.6" x2="965" y2="592.6" stroke-width="0.9" /><path d="M846.7,592.6 L854.3,591.45 L854.3,593.75 Z" fill="#141414" stroke="none"/><text y="588.9" font-size="20.1" ><tspan x="850.64" font-size="16.88">Ø</tspan><tspan x="864.28">4</tspan><tspan x="874.33">6</tspan><tspan x="884.58">.</tspan><tspan x="894.42">4</tspan><tspan x="907.79" font-size="24.52">±</tspan><tspan x="924.57">0</tspan><tspan x="934.82">.</tspan><tspan x="944.67">0</tspan><tspan x="954.72">5</tspan></text><text y="607.6" font-size="26.5" ><tspan x="774.96" textLength="12.32" lengthAdjust="spacingAndGlyphs">B</tspan><tspan x="788.21" textLength="12.32" lengthAdjust="spacingAndGlyphs">–</tspan><tspan x="801.46" textLength="12.32" lengthAdjust="spacingAndGlyphs">B</tspan></text><line x1="767.5" y1="612.3" x2="824.1" y2="612.3" stroke-width="0.9" /><text y="636.5" font-size="26.5" ><tspan x="766.51" textLength="7.94" lengthAdjust="spacingAndGlyphs">(</tspan><tspan x="774.91" textLength="12.32" lengthAdjust="spacingAndGlyphs">4</tspan><tspan x="790.64" textLength="7.36" lengthAdjust="spacingAndGlyphs">:</tspan><tspan x="801.41" textLength="12.32" lengthAdjust="spacingAndGlyphs">1</tspan><tspan x="814.2" textLength="7.94" lengthAdjust="spacingAndGlyphs">)</tspan></text>
</svg></body></html>
